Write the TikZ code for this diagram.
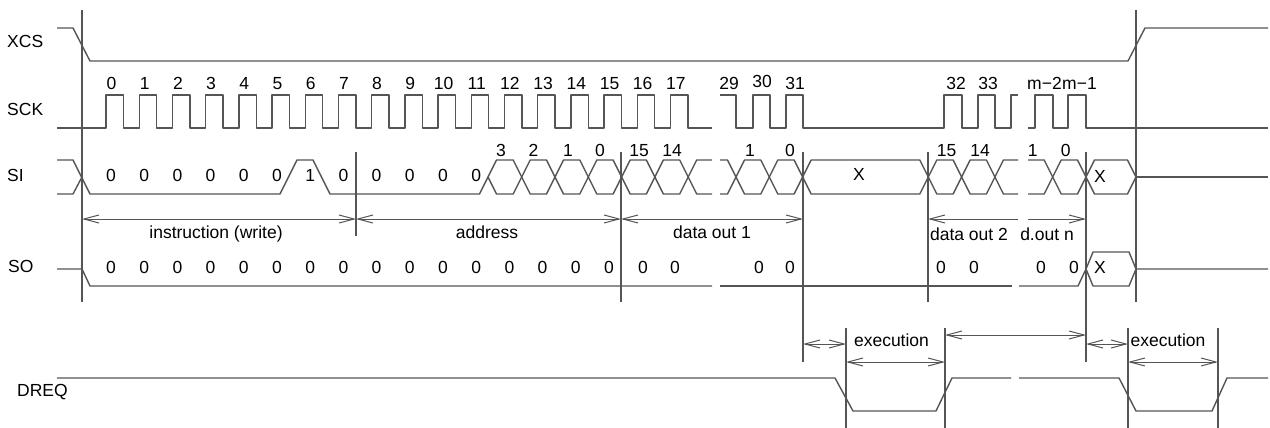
\documentclass[tikz,border=0pt]{standalone}
\usepackage{fontspec}
\setmainfont{Liberation Sans}
\usetikzlibrary{arrows.meta}
\definecolor{lc}{RGB}{85,85,85}
\tikzset{
  sig/.style={draw=lc, line width=1.4pt, line join=round},
  guide/.style={draw=lc, line width=1.1pt},
  dimline/.style={draw=lc, line width=1pt},
  barb/.tip={Straight Barb[length=15pt,width=8pt]},
  both/.style={dimline, barb-barb},
  lefthead/.style={dimline, barb-},
  righthead/.style={dimline, -barb},
  txt/.style={inner sep=0pt, anchor=base, font=\fontsize{17.5}{20}\selectfont},
  sname/.style={txt, anchor=base west},
}
\begin{document}
\begin{tikzpicture}[x=1pt,y=-1pt]
\useasboundingbox (0,0) rectangle (1270,428);

% signal names
\node[sname] (nXCS) at (7,47.3) {XCS};
\node[sname] (nSCK) at (7,115) {SCK};
\node[sname] (nSI) at (7,181.7) {SI};
\node[sname] (nSO) at (8,272.7) {SO};
\node[sname] (nDREQ) at (17,396.7) {DREQ};

% guide lines
\draw[guide] (82,10) -- (82,302);
\draw[guide] (356,152) -- (356,236);
\draw[guide] (621,152) -- (621,302);
\draw[guide] (803,152) -- (803,362);
\draw[guide] (928,152) -- (928,302);
\draw[guide] (1086,152) -- (1086,362);
\draw[guide] (1136,10) -- (1136,302);
\draw[guide] (846,328) -- (846,428);
\draw[guide] (945,328) -- (945,428);
\draw[guide] (1128,328) -- (1128,428);
\draw[guide] (1218,328) -- (1218,428);

% XCS
\draw[sig] (57,28) -- (73,28) -- (90,61) -- (1128,61) -- (1145,28) -- (1268,28);

% SCK
\draw[sig] (57,128) foreach \k in {0,...,17}{ -- ({106+33.2*\k},128) -- ++(0,-33) -- ++(17.5,0) -- ++(0,33)} -- (712,128);
\draw[sig] (720,95) -- (736,95) -- (736,128) -- (753,128) -- (753,95) -- (770,95) -- (770,128)
  -- (786,128) -- (786,95) -- (803,95) -- (803,128) -- (944,128) -- (944,95) -- (962,95)
  -- (962,128) -- (978,128) -- (978,95) -- (995,95) -- (995,128) -- (1011,128) -- (1011,95) -- (1018,95);
\draw[sig] (1028,128) -- (1035,128) -- (1035,95) -- (1053,95) -- (1053,128) -- (1068,128)
  -- (1068,95) -- (1086,95) -- (1086,128) -- (1268,128);
\foreach \k in {0,...,17} \node[txt] (ck\k) at ({111.5+33.2*\k},89.3) {\k};
\node[txt] (ck29) at (729,89.3) {29};
\node[txt] (ck30) at (762,87.3) {30};
\node[txt] (ck31) at (795,89.3) {31};
\node[txt] (ck32) at (956,89.3) {32};
\node[txt] (ck33) at (988,89.3) {33};
\node[txt] (ckm2) at (1044.5,89.3) {m−2};
\node[txt] (ckm1) at (1079.5,89.3) {m−1};

% SI
\draw[sig] (57,160) -- (73,160) -- (90,194) -- (280,194) -- (297,160) -- (313,160) -- (330,194) -- (479.5,194) -- (488,177);
\draw[sig] (57,194) -- (73,194) -- (82,177);
\foreach \a/\b in {488/521.7, 521.7/555, 555/588.3, 588.3/621.6, 621.6/654.9, 654.9/688.2,
  736/769.3, 769.3/802.6, 802.6/928.3, 928.3/961.6, 961.6/994.9, 1052.7/1086, 1086/1136}
  \draw[sig] (\a,177) -- ({\a+8.5},160) -- ({\b-8.5},160) -- (\b,177) -- ({\b-8.5},194) -- ({\a+8.5},194) -- cycle;
\draw[sig] (712,160) -- (696.7,160) -- (688.2,177) -- (696.7,194) -- (712,194);
\draw[sig] (720,160) -- (727.5,160) -- (736,177) -- (727.5,194) -- (720,194);
\draw[sig] (1018,160) -- (1003.4,160) -- (994.9,177) -- (1003.4,194) -- (1018,194);
\draw[sig] (1028,160) -- (1044.2,160) -- (1052.7,177) -- (1044.2,194) -- (1028,194);
\draw[sig] (1136,177) -- (1268,177);
\foreach \k/\t in {0/0,1/0,2/0,3/0,4/0,5/0,6/1,7/0,8/0,9/0,10/0,11/0}
  \node[txt] (si\k) at ({111+33.2*\k},181.7) {\t};
\node[txt] (siX1) at (859,180) {X};
\node[txt] (siX2) at (1100,182) {X};
\node[txt] (sb3) at (501,156) {3};
\node[txt] (sb2) at (533.5,156) {2};
\node[txt] (sb1) at (568,156) {1};
\node[txt] (sb0) at (600,156) {0};
\node[txt] (sb15) at (639,156) {15};
\node[txt] (sb14) at (672,156) {14};
\node[txt] (sc1) at (750,156) {1};
\node[txt] (sc0) at (790,156) {0};
\node[txt] (sd15) at (946.7,156) {15};
\node[txt] (sd14) at (980,156) {14};
\node[txt] (sd1) at (1032.7,156) {1};
\node[txt] (sd0) at (1065.7,156) {0};

% interval arrows
\coordinate (a0) at (82,219);
\coordinate (a1) at (356,219);
\coordinate (a2) at (621,219);
\coordinate (a3) at (803,219);
\coordinate (a4) at (928,219);
\coordinate (a5) at (1018,219);
\coordinate (a6) at (1028,219);
\coordinate (a7) at (1086,219);
\draw[both] (a0) -- (a1);
\draw[both] (a1) -- (a2);
\draw[both] (a2) -- (a3);
\draw[lefthead] (a4) -- (a5);
\draw[righthead] (a6) -- (a7);
\node[txt] (linstr) at (216,238.3) {instruction (write)};
\node[txt] (laddr) at (487,238.3) {address};
\node[txt] (ldo1) at (712,238.3) {data out 1};
\node[txt] (ldo2) at (969,240.7) {data out 2};
\node[txt] (ldon) at (1047,240.7) {d.out n};

% SO
\draw[sig] (57,269) -- (82,269) -- (90,286) -- (712,286);
\draw[sig] (720,286) -- (1011.7,286);
\draw[sig] (1019,286) -- (1078,286) -- (1086,269) -- (1093,252) -- (1129,252) -- (1136,269) -- (1268,269);
\draw[sig] (1086,269) -- (1093,286) -- (1129,286) -- (1136,269);
\foreach \k in {0,...,15} \node[txt] (so\k) at ({111+33.2*\k},273.3) {0};
\foreach \x [count=\i] in {643,675,759,790,941,974,1041,1074}
  \node[txt] (sp\i) at (\x,273.3) {0};
\node[txt] (soX) at (1100,273.3) {X};

% execution arrows
\coordinate (e0) at (803,344);
\coordinate (e1) at (846,344);
\coordinate (e2) at (846,362);
\coordinate (e3) at (945,362);
\coordinate (e4) at (945,335);
\coordinate (e5) at (1086,335);
\coordinate (e6) at (1086,344);
\coordinate (e7) at (1128,344);
\coordinate (e8) at (1128,362);
\coordinate (e9) at (1218,362);
\draw[both] (e0) -- (e1);
\draw[both] (e2) -- (e3);
\draw[both] (e4) -- (e5);
\draw[both] (e6) -- (e7);
\draw[both] (e8) -- (e9);
\node[txt] (lex1) at (891.5,346.7) {execution};
\node[txt] (lex2) at (1168,346.7) {execution};

% DREQ
\draw[sig] (57,378) -- (835,378) -- (853,411) -- (936,411) -- (952,378) -- (1011,378);
\draw[sig] (1019,378) -- (1119,378) -- (1136,411) -- (1212,411) -- (1227,378) -- (1268,378);
\end{tikzpicture}
\end{document}
